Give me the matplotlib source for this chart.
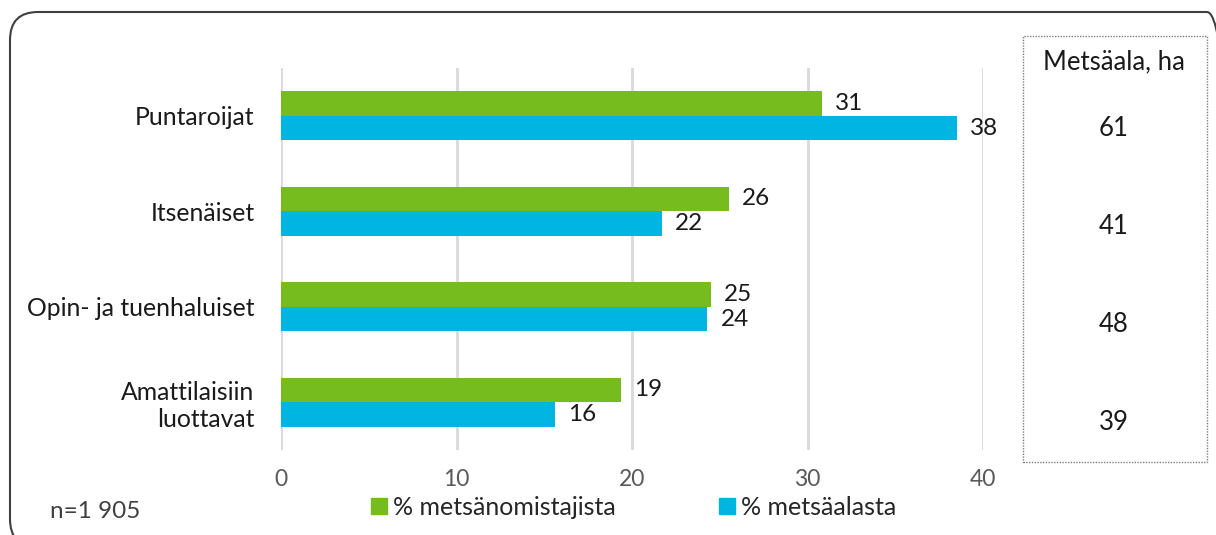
import matplotlib.pyplot as plt
from matplotlib.patches import Patch, Rectangle, FancyBboxPatch

# data
groups = ['Puntaroijat', 'Itsenäiset', 'Opin- ja tuenhaluiset', 'Amattilaisiin\nluottavat']
owners_pct = [30.8, 25.5, 24.5, 19.4]
area_pct = [38.5, 21.7, 24.3, 15.6]
owners_lbl = ['31', '26', '25', '19']
area_lbl = ['38', '22', '24', '16']
area_ha = ['61', '41', '48', '39']
xticks = [0, 10, 20, 30, 40]

green = '#77BC1F'
blue = '#00B5E2'

plt.rcParams['font.family'] = ['Lato', 'DejaVu Sans']

fig = plt.figure(figsize=(12.16, 5.35), dpi=100)
ax = fig.add_axes([0.2311, 0.1589, 0.5773, 0.714])

h = 0.257
ypos = list(range(len(groups)))
ax.barh([y - h / 2 for y in ypos], owners_pct, height=h, color=green, zorder=3)
ax.barh([y + h / 2 for y in ypos], area_pct, height=h, color=blue, zorder=3)

for y, v, t in zip(ypos, owners_pct, owners_lbl):
    ax.annotate(t, (v, y - h / 2), xytext=(13, 0), textcoords='offset pixels',
                va='center', ha='left', fontsize=17.5, color='#1a1a1a')
for y, v, t in zip(ypos, area_pct, area_lbl):
    ax.annotate(t, (v, y + h / 2), xytext=(13, 0), textcoords='offset pixels',
                va='center', ha='left', fontsize=17.5, color='#1a1a1a')

ax.set_xlim(0, 40)
ax.set_ylim(len(groups) - 0.5, -0.5)
ax.set_xticks(xticks)
ax.set_yticks(ypos)
ax.set_yticklabels(groups, fontsize=17.8, color='#1a1a1a', linespacing=1.2)
ax.tick_params(axis='x', labelsize=16.5, labelcolor='#595959', length=0, pad=14)
ax.tick_params(axis='y', length=0, pad=19)
ax.grid(axis='x', color='#d9d9d9', linewidth=2, zorder=0)
for s in ax.spines.values():
    s.set_visible(False)

# legend
handles = [Patch(color=green, label='% metsänomistajista'),
           Patch(color=blue, label='% metsäalasta')]
fig.legend(handles=handles, loc='center', bbox_to_anchor=(0.521, 0.052), ncol=2,
           frameon=False, fontsize=18, handlelength=0.65, handleheight=0.65,
           handletextpad=0.25, columnspacing=4.1, labelcolor='#262626')

fig.text(50 / 1216, 1 - 511 / 535, 'n=1 905', fontsize=17.5, color='#404040',
         ha='left', va='center')

# side box with forest area
fig.patches.append(Rectangle((1023 / 1216, 1 - 462 / 535), 184 / 1216, 426 / 535,
                             transform=fig.transFigure, fill=False, edgecolor='#7f7f7f',
                             linestyle=(0, (1, 1)), linewidth=1))
fig.text(1114 / 1216, 1 - 62 / 535, 'Metsäala, ha', fontsize=18.5, color='#1a1a1a',
         ha='center', va='center')
for i, t in enumerate(area_ha):
    fig.text(1114 / 1216, 1 - (128 + 98.3 * i) / 535, t, fontsize=18.5, color='#1a1a1a',
             ha='center', va='center')

# outer rounded frame
fig.patches.append(FancyBboxPatch((0.10, -0.12), 12.25, 5.35,
                                  boxstyle='round,pad=0,rounding_size=0.28',
                                  transform=fig.dpi_scale_trans, fill=False,
                                  edgecolor='#404040', linewidth=1.5))

fig.savefig('out.png', dpi=100)
plt.close(fig)
